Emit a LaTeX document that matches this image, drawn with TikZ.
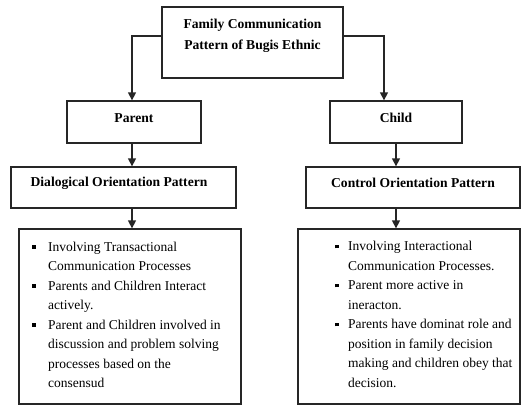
\documentclass[tikz,border=0pt]{standalone}
\usepackage{fontspec}
\setmainfont{Liberation Serif}
\usetikzlibrary{arrows.meta}
\newcommand\sqbulA{\makebox[16pt][l]{\rule[2.4pt]{3.8pt}{3.8pt}}}
\newcommand\sqbulB{\makebox[13pt][l]{\rule[2.4pt]{3.8pt}{3.8pt}}}
\begin{document}
\begin{tikzpicture}[x=1pt,y=-1pt,
 box/.style={draw=black!85, line width=1.3pt, inner sep=0pt},
 lbl/.style={font=\fontsize{13.6}{21}\selectfont\bfseries, align=center, inner sep=0pt},
 conn/.style={draw=black!85, line width=1.4pt, -{Triangle[length=8pt,width=8pt]}},
 lst/.style={font=\fontsize{13.5}{19.5}\selectfont, align=left, inner sep=0pt, anchor=west}]
\useasboundingbox (0,0) rectangle (522,406);
% boxes
\node[box, minimum width=181pt, minimum height=71pt] (top) at (252.5,42.5) {};
\node[box, minimum width=134pt, minimum height=42pt] (parent) at (134,122) {};
\node[box, minimum width=132pt, minimum height=42pt] (child) at (396,122) {};
\node[box, minimum width=225pt, minimum height=41pt] (dial) at (123.5,187.5) {};
\node[box, minimum width=214pt, minimum height=41pt] (ctrl) at (413,187.5) {};
\node[box, minimum width=222pt, minimum height=175pt] (llist) at (130,316.5) {};
\node[box, minimum width=222pt, minimum height=175pt] (rlist) at (409,316.5) {};
% labels
\node[lbl] (toptxt) at (252.5,36) {Family Communication\\Pattern of Bugis Ethnic};
\node[lbl] (partxt) at (134,118) {Parent};
\node[lbl] (chtxt) at (396,118) {Child};
\node[lbl] (dialtxt) at (119,183) {Dialogical Orientation Pattern};
\node[lbl] (ctrltxt) at (413,183) {Control Orientation Pattern};
\node[lst] (ltxt) at (32,315) {\sqbulA Involving Transactional\\
\hspace*{16pt}Communication Processes\\
\sqbulA Parents and Children Interact\\
\hspace*{16pt}actively.\\
\sqbulA Parent and Children involved in\\
\hspace*{16pt}discussion and problem solving\\
\hspace*{16pt}processes based on the\\
\hspace*{16pt}consensud};
\node[lst] (rtxt) at (335,314.5) {\sqbulB Involving Interactional\\
\hspace*{13pt}Communication Processes.\\
\sqbulB Parent more active in\\
\hspace*{13pt}ineracton.\\
\sqbulB Parents have dominat role and\\
\hspace*{13pt}position in family decision\\
\hspace*{13pt}making and children obey that\\
\hspace*{13pt}decision.};
% connectors
\coordinate (tl) at ([yshift=6.5pt]top.west);
\coordinate (tr) at ([yshift=6.5pt]top.east);
\coordinate (pin) at ([xshift=-2pt]parent.north);
\coordinate (cin) at ([xshift=-12pt]child.north);
\draw[conn] (tl) -| (pin);
\draw[conn] (tr) -| (cin);
\draw[conn] ([xshift=-2pt]parent.south) -- ([xshift=-2pt]parent.south |- dial.north);
\draw[conn] ([xshift=-2pt]parent.south |- dial.south) -- ([xshift=-2pt]parent.south |- llist.north);
\draw[conn] (child.south) -- (child.south |- ctrl.north);
\draw[conn] (child.south |- ctrl.south) -- (child.south |- rlist.north);
\end{tikzpicture}
\end{document}
